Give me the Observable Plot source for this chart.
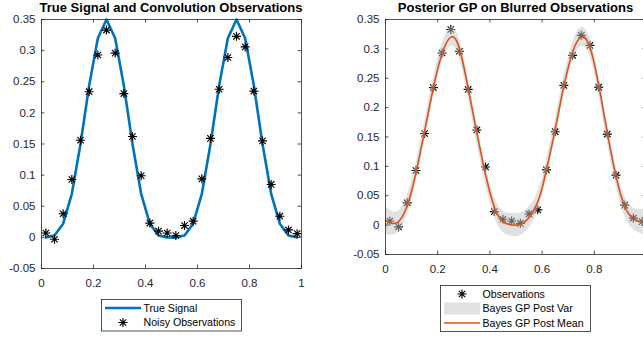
<!DOCTYPE html>
<html>
<head>
<meta charset="utf-8">
<script src="https://cdn.jsdelivr.net/npm/d3@7"></script>
<script src="https://cdn.jsdelivr.net/npm/@observablehq/plot@0.6"></script>
<style>
  body { margin: 0; background: #fff; }
  #fig { position: relative; width: 643px; height: 337px; overflow: hidden; background: #fff;
         font-family: "Liberation Sans", Arial, Helvetica, sans-serif; color: #262626; }
  .panel { position: absolute; top: 0; }
  .title { position: absolute; top: 0; font-weight: bold; font-size: 13px; line-height: 15px;
           color: #000; text-align: center; white-space: nowrap; }
  .legend { position: absolute; }
</style>
</head>
<body>
<div id="fig"></div>
<script>
// Sample positions shared by the signal and the blurred observations
const obsX = [0.0167, 0.05, 0.0833, 0.1167, 0.15, 0.1833, 0.2167, 0.25, 0.2833, 0.3167,
              0.35, 0.3833, 0.4167, 0.45, 0.4833, 0.5167, 0.55, 0.5833, 0.6167, 0.65,
              0.6833, 0.7167, 0.75, 0.7833, 0.8167, 0.85, 0.8833, 0.9167, 0.95, 0.9833];
// True signal at those positions
const trueSignal = [0.000, 0.003, 0.022, 0.070, 0.150, 0.244, 0.320, 0.350, 0.320, 0.244,
                    0.150, 0.070, 0.022, 0.003, 0.000, 0.000, 0.003, 0.022, 0.070, 0.150,
                    0.244, 0.320, 0.350, 0.320, 0.244, 0.150, 0.070, 0.022, 0.003, 0.000];
// Noisy convolution observations
const noisyObs = [0.007, -0.003, 0.038, 0.093, 0.156, 0.234, 0.293, 0.333, 0.296, 0.231,
                  0.162, 0.099, 0.023, 0.010, 0.007, 0.003, 0.019, 0.026, 0.094, 0.159,
                  0.238, 0.289, 0.323, 0.306, 0.235, 0.155, 0.085, 0.034, 0.012, 0.006];

// Posterior GP evaluation grid, mean and spread
const gridX = [0, 0.025, 0.05, 0.075, 0.1, 0.125, 0.15, 0.175, 0.2, 0.225,
               0.25, 0.275, 0.3, 0.325, 0.35, 0.375, 0.4, 0.425, 0.45, 0.475,
               0.5, 0.525, 0.55, 0.575, 0.6, 0.625, 0.65, 0.675, 0.7, 0.725,
               0.75, 0.775, 0.8, 0.825, 0.85, 0.875, 0.9, 0.925, 0.95, 0.975, 1];
const postMean = [0.008, 0.003, 0.006, 0.024, 0.058, 0.106, 0.160, 0.216, 0.266, 0.302,
                  0.320, 0.311, 0.270, 0.214, 0.157, 0.103, 0.056, 0.022, 0.006, 0.001,
                  0.000, 0.003, 0.013, 0.031, 0.063, 0.111, 0.162, 0.219, 0.268, 0.304,
                  0.320, 0.312, 0.275, 0.219, 0.157, 0.100, 0.054, 0.024, 0.011, 0.006, 0.006];
const postSpread = [0.024, 0.020, 0.018, 0.017, 0.016, 0.016, 0.016, 0.016, 0.016, 0.016,
                    0.016, 0.016, 0.016, 0.016, 0.016, 0.016, 0.016, 0.017, 0.018, 0.019,
                    0.020, 0.019, 0.018, 0.017, 0.016, 0.016, 0.016, 0.016, 0.016, 0.016,
                    0.016, 0.016, 0.016, 0.016, 0.016, 0.016, 0.016, 0.017, 0.018, 0.020, 0.024];

// Axis ticks
const xTicks = [0, 0.2, 0.4, 0.6, 0.8, 1];
const xTickLabels = ["0", "0.2", "0.4", "0.6", "0.8", "1"];
const yTicks = [-0.05, 0, 0.05, 0.1, 0.15, 0.2, 0.25, 0.3, 0.35];
const yTickLabels = ["-0.05", "0", "0.05", "0.1", "0.15", "0.2", "0.25", "0.3", "0.35"];

const titles = ["True Signal and Convolution Observations", "Posterior GP on Blurred Observations"];

const ink = "#262626";
const blue = "#0072BD";
const orange = "#D95319";

const observations = obsX.map((x, i) => ({x, truth: trueSignal[i], obs: noisyObs[i]}));
const posterior = gridX.map((x, i) => ({x, mean: postMean[i], lo: postMean[i] - postSpread[i], hi: postMean[i] + postSpread[i]}));

// Eight-armed star marker
const asterisk = {
  draw(ctx, size) {
    const r = Math.sqrt(size / Math.PI);
    const d = r * Math.SQRT1_2;
    ctx.moveTo(-r, 0); ctx.lineTo(r, 0);
    ctx.moveTo(0, -r); ctx.lineTo(0, r);
    ctx.moveTo(-d, -d); ctx.lineTo(d, d);
    ctx.moveTo(-d, d); ctx.lineTo(d, -d);
  }
};

// Boxed axes with inward ticks on all four sides
function boxAxes(innerW, innerH, ticksX) {
  const t = 3.5;
  const fmtX = d => xTickLabels[xTicks.indexOf(d)];
  const fmtY = d => yTickLabels[yTicks.indexOf(d)];
  return [
    Plot.tickX(ticksX, {x: d => d, insetTop: innerH - t, stroke: ink, strokeWidth: 0.8}),
    Plot.tickX(ticksX, {x: d => d, insetBottom: innerH - t, stroke: ink, strokeWidth: 0.8}),
    Plot.tickY(yTicks, {y: d => d, insetRight: innerW - t, stroke: ink, strokeWidth: 0.8}),
    Plot.tickY(yTicks, {y: d => d, insetLeft: innerW - t, stroke: ink, strokeWidth: 0.8}),
    Plot.axisX(ticksX, {tickSize: 0, tickPadding: 10, tickFormat: fmtX, label: null}),
    Plot.axisY(yTicks, {tickSize: 0, tickPadding: 6, tickFormat: fmtY, label: null}),
    Plot.frame({stroke: ink, strokeWidth: 0.8})
  ];
}

const baseStyle = {fontFamily: '"Liberation Sans", Arial, Helvetica, sans-serif', fontSize: "11.5px", color: ink, background: "transparent", overflow: "visible"};

// Left: true signal with the noisy observations
const left = Plot.plot({
  width: 320, height: 300,
  marginLeft: 41, marginRight: 19, marginTop: 19, marginBottom: 32,
  style: baseStyle,
  x: {domain: [0, 1]},
  y: {domain: [-0.05, 0.35]},
  marks: [
    Plot.line(observations, {x: "x", y: "truth", stroke: blue, strokeWidth: 2.6}),
    Plot.dot(observations, {x: "x", y: "obs", symbol: asterisk, r: 4.5, fill: "none", stroke: "#000", strokeWidth: 1.15}),
    ...boxAxes(260, 249, xTicks)
  ]
});

// Right: posterior mean and band over the same observations
const right = Plot.plot({
  width: 330, height: 280,
  marginLeft: 65, marginRight: 4, marginTop: 19, marginBottom: 26,
  style: baseStyle,
  x: {domain: [0, 1]},
  y: {domain: [-0.05, 0.35]},
  marks: [
    Plot.dot(observations, {x: "x", y: "obs", symbol: asterisk, r: 4.5, fill: "none", stroke: "#000", strokeWidth: 1.15}),
    Plot.areaY(posterior, {x: "x", y1: "lo", y2: "hi", fill: "#c4c4c4", fillOpacity: 0.5, curve: "natural"}),
    Plot.line(posterior, {x: "x", y: "mean", stroke: orange, strokeWidth: 1.6, curve: "natural"}),
    ...boxAxes(261, 235, xTicks.slice(0, 5))
  ]
});

const fig = document.getElementById("fig");
left.classList.add("panel"); left.style.left = "0px";
right.classList.add("panel"); right.style.left = "320px";
fig.appendChild(left);
fig.appendChild(right);

function addTitle(text, cx) {
  const div = document.createElement("div");
  div.className = "title";
  div.textContent = text;
  div.style.left = (cx - 200) + "px";
  div.style.width = "400px";
  fig.appendChild(div);
}
addTitle(titles[0], 171);
addTitle(titles[1], 515.5);

// Legends
const starPath = (() => { const p = d3.path(); asterisk.draw(p, Math.PI * 4.5 * 4.5); return p.toString(); })();
function legend(x, y, w, entries) {
  const rowH = 14.5;
  const h = entries.length * rowH + 3.5;
  const svg = d3.create("svg").attr("class", "legend").attr("width", w).attr("height", h)
    .style("left", x + "px").style("top", y + "px")
    .style("font-family", '"Liberation Sans", Arial, Helvetica, sans-serif').style("font-size", "10.6px");
  svg.append("rect").attr("x", 0.5).attr("y", 0.5).attr("width", w - 1).attr("height", h - 1)
    .attr("fill", "#fff").attr("stroke", ink).attr("stroke-width", 0.8);
  entries.forEach((e, i) => {
    const cy = 9 + i * rowH;
    if (e.type === "line") {
      svg.append("line").attr("x1", 4).attr("x2", 40).attr("y1", cy).attr("y2", cy)
        .attr("stroke", e.color).attr("stroke-width", e.width);
    } else if (e.type === "star") {
      svg.append("path").attr("d", starPath).attr("transform", `translate(22,${cy})`)
        .attr("fill", "none").attr("stroke", "#000").attr("stroke-width", 1.15);
    } else {
      svg.append("rect").attr("x", 4).attr("y", cy - 6).attr("width", 36).attr("height", 12)
        .attr("fill", "#c4c4c4").attr("fill-opacity", 0.5);
    }
    svg.append("text").attr("x", 42.5).attr("y", cy).attr("dy", "0.35em").attr("fill", "#000").text(e.label);
  });
  fig.appendChild(svg.node());
}
legend(101, 299, 141, [
  {type: "line", color: blue, width: 2.6, label: "True Signal"},
  {type: "star", label: "Noisy Observations"}
]);
legend(440, 285, 151, [
  {type: "star", label: "Observations"},
  {type: "patch", label: "Bayes GP Post Var"},
  {type: "line", color: orange, width: 1.6, label: "Bayes GP Post Mean"}
]);
</script>
</body>
</html>
